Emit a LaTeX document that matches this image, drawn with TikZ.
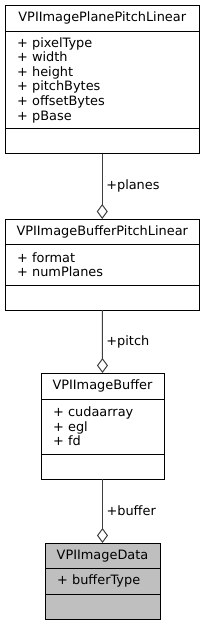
\documentclass[tikz,border=0pt]{standalone}
\usepackage{fontspec}
\setmainfont{DejaVu Sans}
\usetikzlibrary{arrows.meta,positioning}
\definecolor{edgegray}{HTML}{404040}
\definecolor{datagray}{HTML}{BFBFBF}
\tikzset{
	part/.style={draw=black,line width=1pt,outer sep=0pt,inner ysep=0pt,anchor=north,font=\fontsize{12.9}{14.6}\selectfont},
	classtitle/.style={part,text height=9.6pt,text depth=2.6pt},
	members/.style={part,align=left,inner xsep=12pt},
	assoc/.style={draw=edgegray,line width=1pt,-{Diamond[open,length=15pt,width=11pt,line width=1pt]}},
	role/.style={right,inner xsep=3.5pt,font=\fontsize{12.9}{14.6}\selectfont}
}
\begin{document}
\begin{tikzpicture}[x=1pt,y=-1pt]
		\useasboundingbox (0,0) rectangle (205,625);
		\node[classtitle,minimum width=194.5pt,minimum height=26.5pt] (plane) at (102.25,5) {VPIImagePlanePitchLinear};
		\node[members,text width=170.5pt,minimum height=97pt,below=0pt of plane] (plane attr) {+ pixelType\\+ width\\+ height\\+ pitchBytes\\+ offsetBytes\\+ pBase};
		\node[part,minimum width=194.5pt,minimum height=25pt,below=0pt of plane attr] (plane ops) {};
		\node[classtitle,minimum width=194.5pt,minimum height=25pt] (pitchlin) at (102.25,219) {VPIImageBufferPitchLinear};
		\node[members,text width=170.5pt,minimum height=41pt,below=0pt of pitchlin] (pitchlin attr) {+ format\\+ numPlanes};
		\node[part,minimum width=194.5pt,minimum height=25pt,below=0pt of pitchlin attr] (pitchlin ops) {};
		\node[classtitle,minimum width=123pt,minimum height=26pt] (buffer) at (102.5,373) {VPIImageBuffer};
		\node[members,text width=99pt,minimum height=55pt,below=0pt of buffer] (buffer attr) {+ cudaarray\\+ egl\\+ fd};
		\node[part,minimum width=123pt,minimum height=25pt,below=0pt of buffer attr] (buffer ops) {};
		\node[classtitle,fill=datagray,minimum width=115pt,minimum height=25.5pt] (data) at (102.5,543) {VPIImageData};
		\node[members,fill=datagray,text width=91pt,minimum height=25.5pt,below=0pt of data] (data attr) {+ bufferType};
		\node[part,fill=datagray,minimum width=115pt,minimum height=25.5pt,below=0pt of data attr] (data ops) {};
		\draw[assoc] (plane ops.south) -- node[role] {+planes} (pitchlin.north);
		\draw[assoc] (pitchlin ops.south) -- node[role] {+pitch} (buffer.north);
		\draw[assoc] (buffer ops.south) -- node[role] {+buffer} (data.north);
	\end{tikzpicture}
\end{document}
